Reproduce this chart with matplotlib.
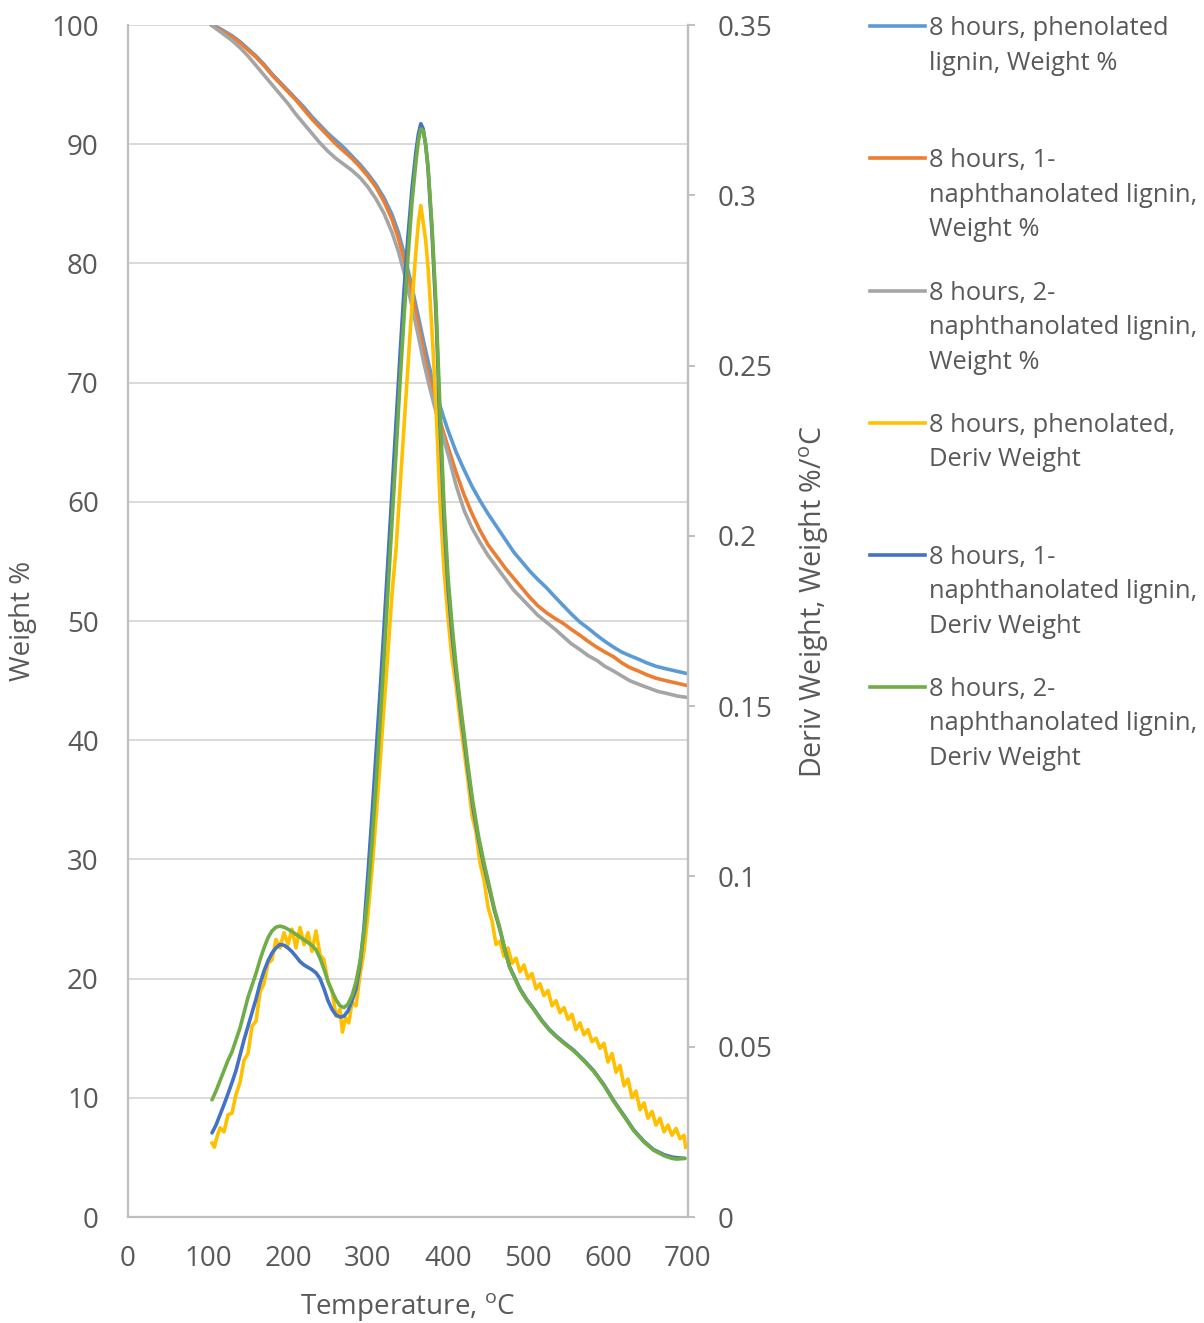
import numpy as np
import matplotlib
matplotlib.use('Agg')
import matplotlib.pyplot as plt
from matplotlib.lines import Line2D

plt.rcParams['font.family'] = ['Open Sans', 'DejaVu Sans']
plt.rcParams['mathtext.fontset'] = 'custom'
plt.rcParams['mathtext.rm'] = 'Open Sans'

# --- TGA weight curves (Weight %) ---
t_phenol_w = [104, 112, 120, 130, 140, 150, 160, 170, 180, 190, 200, 210, 220, 230, 240, 250,
              260, 270, 280, 290, 300, 310, 320, 330, 338, 346, 354, 362, 370, 376, 382, 388,
              394, 400, 410, 420, 430, 440, 450, 461, 472, 482, 492, 502, 512, 523, 534, 544,
              554, 565, 575, 586, 596, 607, 617, 627, 638, 648, 660, 672, 685, 698]
w_phenol = [100.0, 99.8, 99.5, 99.1, 98.6, 98.0, 97.4, 96.7, 95.9, 95.2, 94.5, 93.8, 93.1, 92.3,
            91.6, 90.9, 90.3, 89.7, 89.0, 88.3, 87.5, 86.6, 85.5, 84.1, 82.6, 80.6, 78.3, 75.8,
            73.3, 71.5, 69.9, 68.5, 67.2, 66.0, 64.2, 62.7, 61.3, 60.1, 59.0, 57.9, 56.8, 55.8,
            55.0, 54.2, 53.5, 52.8, 52.0, 51.3, 50.6, 49.9, 49.4, 48.8, 48.3, 47.8, 47.4, 47.1,
            46.8, 46.5, 46.2, 46.0, 45.8, 45.6]

t_naph1_w = [104, 112, 120, 130, 140, 150, 160, 170, 180, 190, 200, 210, 220, 230, 240, 250,
             260, 270, 280, 290, 300, 310, 320, 330, 338, 346, 354, 362, 370, 376, 382, 388,
             394, 400, 410, 420, 430, 440, 450, 461, 472, 482, 492, 502, 512, 523, 534, 544,
             554, 565, 575, 586, 596, 607, 617, 627, 638, 648, 660, 672, 685, 698]
w_naph1 = [100.0, 99.7, 99.4, 99.0, 98.5, 97.9, 97.3, 96.6, 95.8, 95.1, 94.4, 93.7, 92.9, 92.1,
           91.4, 90.7, 90.0, 89.4, 88.8, 88.1, 87.3, 86.4, 85.2, 83.7, 82.1, 80.1, 77.8, 75.2,
           72.5, 70.6, 68.9, 67.3, 65.9, 64.6, 62.5, 60.6, 59.0, 57.6, 56.4, 55.4, 54.4, 53.6,
           52.8, 52.0, 51.3, 50.7, 50.2, 49.8, 49.3, 48.8, 48.3, 47.8, 47.4, 47.0, 46.5, 46.1,
           45.8, 45.5, 45.2, 45.0, 44.8, 44.6]

t_naph2_w = [104, 112, 120, 130, 140, 150, 160, 170, 180, 190, 200, 210, 220, 230, 240, 250,
             260, 270, 280, 290, 300, 310, 320, 330, 338, 346, 354, 362, 370, 376, 382, 388,
             394, 400, 410, 420, 430, 440, 450, 461, 472, 482, 492, 502, 512, 523, 534, 544,
             554, 565, 575, 586, 596, 607, 617, 627, 638, 650, 662, 675, 687, 698]
w_naph2 = [100.0, 99.6, 99.2, 98.7, 98.1, 97.4, 96.6, 95.8, 95.0, 94.2, 93.4, 92.5, 91.7, 90.9,
           90.1, 89.4, 88.8, 88.3, 87.8, 87.2, 86.4, 85.4, 84.2, 82.6, 81.0, 79.0, 76.7, 74.2,
           71.6, 69.9, 68.3, 66.8, 65.4, 64.0, 61.4, 59.3, 57.8, 56.6, 55.5, 54.5, 53.5, 52.6,
           51.9, 51.2, 50.5, 49.9, 49.3, 48.7, 48.1, 47.6, 47.1, 46.7, 46.2, 45.8, 45.4, 45.0,
           44.7, 44.4, 44.1, 43.9, 43.7, 43.6]

# --- DTG curves (Deriv Weight, %/C) ---
t_phenol_d = [105, 108, 110, 115, 120, 125, 130, 135, 140, 145, 150, 155, 160, 165, 170, 175,
              180, 185, 190, 195, 200, 205, 210, 215, 220, 225, 230, 235, 240, 245, 250, 255,
              260, 265, 268, 272, 276, 280, 285, 290, 295, 300, 305, 310, 315, 320, 325, 330,
              335, 340, 345, 350, 355, 360, 363, 366, 369, 372, 375, 378, 381, 385, 390, 395,
              400, 405, 410, 415, 420, 425, 430, 435, 440, 445, 450, 455, 460, 465, 470, 475,
              480, 485, 490, 495, 500, 505, 510, 515, 520, 525, 530, 535, 540, 545, 550, 555,
              560, 565, 570, 575, 580, 585, 590, 595, 600, 605, 610, 615, 620, 625, 630, 635,
              640, 645, 650, 655, 660, 665, 670, 675, 680, 685, 690, 695, 697]
d_phenol = [0.0217, 0.0205, 0.0225, 0.0262, 0.0250, 0.0300, 0.0305, 0.0360, 0.0395, 0.0460,
            0.0480, 0.0560, 0.0575, 0.0660, 0.0685, 0.0745, 0.0755, 0.0815, 0.0790, 0.0835,
            0.0800, 0.0845, 0.0790, 0.0850, 0.0800, 0.0835, 0.0780, 0.0840, 0.0770, 0.0755,
            0.0690, 0.0665, 0.0590, 0.0610, 0.0543, 0.0585, 0.0570, 0.0630, 0.0620, 0.0710,
            0.0780, 0.0890, 0.1020, 0.1170, 0.1330, 0.1500, 0.1660, 0.1830, 0.1960, 0.2140,
            0.2320, 0.2500, 0.2680, 0.2840, 0.2920, 0.2970, 0.2920, 0.2870, 0.2790, 0.2680,
            0.2560, 0.2380, 0.2100, 0.1900, 0.1760, 0.1640, 0.1560, 0.1460, 0.1370, 0.1280,
            0.1180, 0.1130, 0.1040, 0.0990, 0.0910, 0.0870, 0.0800, 0.0810, 0.0765, 0.0790,
            0.0745, 0.0760, 0.0720, 0.0740, 0.0700, 0.0715, 0.0670, 0.0685, 0.0650, 0.0665,
            0.0620, 0.0635, 0.0600, 0.0615, 0.0580, 0.0595, 0.0550, 0.0570, 0.0535, 0.0550,
            0.0515, 0.0525, 0.0495, 0.0510, 0.0455, 0.0480, 0.0425, 0.0445, 0.0385, 0.0405,
            0.0350, 0.0370, 0.0315, 0.0335, 0.0290, 0.0310, 0.0270, 0.0290, 0.0250, 0.0270,
            0.0240, 0.0260, 0.0230, 0.0240, 0.0205]

t_naph1_d = [105, 110, 115, 120, 125, 130, 135, 140, 145, 150, 155, 160, 165, 170, 175, 180,
             185, 190, 195, 200, 205, 210, 215, 220, 225, 230, 235, 240, 245, 250, 255, 260,
             265, 270, 275, 280, 285, 290, 295, 300, 305, 310, 315, 320, 325, 330, 335, 340,
             345, 350, 355, 360, 363, 366, 369, 372, 375, 380, 385, 390, 395, 400, 405, 410,
             415, 420, 425, 431, 438, 445, 452, 458, 465, 471, 477, 484, 490, 498, 507, 517,
             527, 535, 545, 557, 570, 582, 595, 607, 620, 632, 645, 657, 670, 680, 686, 696]
d_naph1 = [0.0247, 0.0270, 0.0300, 0.0330, 0.0362, 0.0395, 0.0430, 0.0475, 0.0520, 0.0560,
           0.0600, 0.0640, 0.0685, 0.0722, 0.0752, 0.0775, 0.0790, 0.0800, 0.0798, 0.0790,
           0.0779, 0.0765, 0.0750, 0.0740, 0.0733, 0.0726, 0.0717, 0.0700, 0.0670, 0.0635,
           0.0610, 0.0593, 0.0587, 0.0590, 0.0605, 0.0635, 0.0670, 0.0740, 0.0850, 0.1010,
           0.1180, 0.1360, 0.1540, 0.1730, 0.1930, 0.2130, 0.2330, 0.2530, 0.2720, 0.2880,
           0.3020, 0.3130, 0.3180, 0.3210, 0.3195, 0.3150, 0.3080, 0.2890, 0.2650, 0.2330,
           0.2050, 0.1850, 0.1710, 0.1600, 0.1500, 0.1405, 0.1310, 0.1205, 0.1110, 0.1030,
           0.0960, 0.0900, 0.0843, 0.0785, 0.0735, 0.0700, 0.0670, 0.0640, 0.0612, 0.0578,
           0.0550, 0.0532, 0.0512, 0.0490, 0.0460, 0.0430, 0.0388, 0.0342, 0.0298, 0.0256,
           0.0222, 0.0198, 0.0183, 0.0176, 0.0174, 0.0172]

t_naph2_d = [105, 110, 115, 120, 125, 130, 135, 140, 145, 150, 155, 160, 165, 170, 175, 180,
             185, 190, 195, 200, 205, 210, 215, 220, 225, 230, 235, 240, 245, 250, 255, 260,
             265, 270, 275, 280, 285, 290, 295, 300, 305, 310, 315, 320, 325, 330, 335, 340,
             345, 350, 355, 360, 363, 366, 369, 372, 375, 380, 385, 390, 395, 400, 405, 410,
             415, 420, 425, 431, 438, 445, 452, 458, 465, 471, 477, 484, 490, 498, 507, 517,
             527, 535, 545, 557, 570, 582, 595, 607, 620, 632, 645, 657, 670, 680, 686, 696]
d_naph2 = [0.0344, 0.0370, 0.0400, 0.0430, 0.0460, 0.0485, 0.0520, 0.0555, 0.0600, 0.0645,
           0.0680, 0.0715, 0.0755, 0.0790, 0.0820, 0.0840, 0.0851, 0.0854, 0.0851, 0.0845,
           0.0838, 0.0830, 0.0822, 0.0814, 0.0806, 0.0797, 0.0785, 0.0760, 0.0728, 0.0692,
           0.0663, 0.0638, 0.0620, 0.0615, 0.0625, 0.0650, 0.0690, 0.0750, 0.0835, 0.0950,
           0.1100, 0.1270, 0.1450, 0.1640, 0.1840, 0.2040, 0.2240, 0.2450, 0.2640, 0.2820,
           0.2980, 0.3100, 0.3160, 0.3195, 0.3190, 0.3150, 0.3085, 0.2910, 0.2680, 0.2370,
           0.2090, 0.1880, 0.1740, 0.1620, 0.1515, 0.1420, 0.1325, 0.1220, 0.1120, 0.1040,
           0.0968, 0.0905, 0.0846, 0.0786, 0.0733, 0.0698, 0.0668, 0.0638, 0.0610, 0.0576,
           0.0548, 0.0530, 0.0510, 0.0488, 0.0458, 0.0428, 0.0386, 0.0340, 0.0296, 0.0254,
           0.0220, 0.0196, 0.0180, 0.0172, 0.0170, 0.0172]

legend_labels = [
    '8 hours, phenolated\nlignin, Weight %',
    '8 hours, 1-\nnaphthanolated lignin,\nWeight %',
    '8 hours, 2-\nnaphthanolated lignin,\nWeight %',
    '8 hours, phenolated,\nDeriv Weight',
    '8 hours, 1-\nnaphthanolated lignin,\nDeriv Weight',
    '8 hours, 2-\nnaphthanolated lignin,\nDeriv Weight',
]
colors = ['#5B9BD5', '#ED7D31', '#A5A5A5', '#FFC000', '#4472C4', '#70AD47']

W, H = 1204, 1323
fig = plt.figure(figsize=(W / 100, H / 100), dpi=100)
x0, x1, y0, y1 = 128, 688, 1217, 25
ax = fig.add_axes([x0 / W, 1 - y0 / H, (x1 - x0) / W, (y0 - y1) / H])
ax2 = ax.twinx()

text_c = '#595959'
axis_c = '#BFBFBF'
lw = 2.6
fs = 20

ax.plot(t_phenol_w, w_phenol, color=colors[0], lw=lw, solid_capstyle='round')
ax.plot(t_naph1_w, w_naph1, color=colors[1], lw=lw, solid_capstyle='round')
ax.plot(t_naph2_w, w_naph2, color=colors[2], lw=lw, solid_capstyle='round')

ax2.plot(t_phenol_d, d_phenol, color=colors[3], lw=lw, solid_joinstyle='round')
ax2.plot(t_naph1_d, d_naph1, color=colors[4], lw=lw, solid_capstyle='round')
ax2.plot(t_naph2_d, d_naph2, color=colors[5], lw=lw, solid_capstyle='round')

ax.set_xlim(0, 700)
ax.set_ylim(0, 100)
ax2.set_ylim(0, 0.35)
ax.set_xticks(range(0, 701, 100))
ax.set_yticks(range(0, 101, 10))
ax2.set_yticks([0, 0.05, 0.1, 0.15, 0.2, 0.25, 0.3, 0.35])
ax2.set_yticklabels(['0', '0.05', '0.1', '0.15', '0.2', '0.25', '0.3', '0.35'])

ax.grid(axis='y', color='#D9D9D9', lw=1.4)
ax.set_axisbelow(True)

for a in (ax, ax2):
    a.spines['top'].set_visible(False)
    for s in ('left', 'bottom', 'right'):
        a.spines[s].set_color(axis_c)
        a.spines[s].set_linewidth(1.6)
ax2.spines['left'].set_visible(False)
ax2.spines['bottom'].set_visible(False)

ax.tick_params(axis='both', length=0, labelsize=fs, labelcolor=text_c)
ax.tick_params(axis='x', pad=20)
ax.tick_params(axis='y', pad=21)
ax2.tick_params(axis='y', length=5, width=1.4, color=axis_c, labelsize=fs,
                labelcolor=text_c, pad=16)

ax.set_xlabel(r'Temperature, $^{\mathrm{o}}$C', fontsize=fs, color=text_c)
ax.xaxis.set_label_coords(0.5, -0.062)
ax.set_ylabel('Weight %', fontsize=fs, color=text_c)
ax.yaxis.set_label_coords(-0.163, 0.5)
ax2.set_ylabel(r'Deriv Weight, Weight %/$^{\mathrm{o}}$C', fontsize=20.6, color=text_c)
ax2.yaxis.set_label_coords(1.195, 0.516)

# legend drawn by hand to keep the wide entry spacing
handle_y = [26, 158, 291, 423, 555, 687]
for label, col, hy in zip(legend_labels, colors, handle_y):
    fy = 1 - hy / H
    fig.add_artist(Line2D([870 / W, 925 / W], [fy, fy], color=col, lw=lw,
                          transform=fig.transFigure))
    fig.text(929 / W, fy + 10 / H, label, fontsize=18.4, color=text_c,
             va='top', ha='left', linespacing=1.5)

fig.savefig('out.png', dpi=100)
